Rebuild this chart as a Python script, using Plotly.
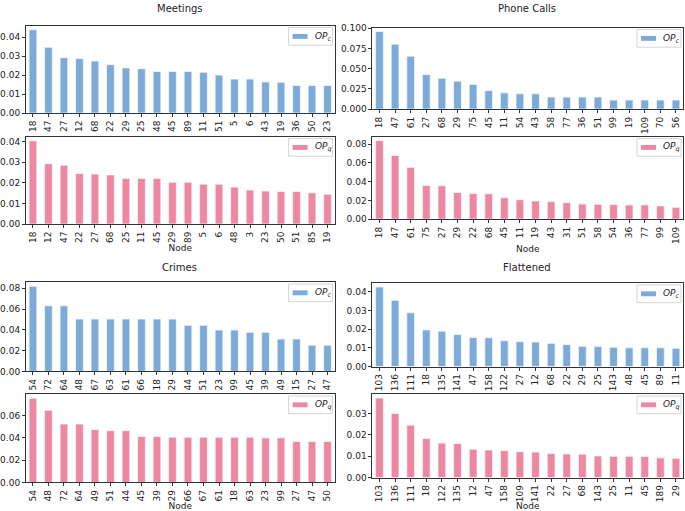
import plotly.graph_objects as go

# ---------------- data ----------------
meet_c_nodes = ["18", "47", "27", "12", "68", "22", "29", "25", "48", "45", "89", "11", "51", "5", "6", "43", "19", "36", "50", "23"]
meet_c_vals = [0.0439, 0.0347, 0.0292, 0.0287, 0.0274, 0.0255, 0.0238, 0.0234, 0.0219, 0.0219, 0.0219, 0.0215, 0.0200, 0.0179, 0.0179, 0.0164, 0.0162, 0.0145, 0.0145, 0.0145]
meet_q_nodes = ["18", "12", "47", "22", "27", "68", "25", "11", "45", "29", "89", "5", "6", "48", "3", "23", "50", "51", "85", "19"]
meet_q_vals = [0.0403, 0.0292, 0.0285, 0.0245, 0.0242, 0.0238, 0.0221, 0.0221, 0.0220, 0.0202, 0.0202, 0.0193, 0.0193, 0.0179, 0.0165, 0.0160, 0.0158, 0.0157, 0.0151, 0.0144]

phone_c_nodes = ["18", "47", "61", "27", "68", "29", "75", "45", "11", "54", "43", "58", "77", "36", "51", "99", "19", "109", "70", "56"]
phone_c_vals = [0.0960, 0.0803, 0.0655, 0.0426, 0.0382, 0.0345, 0.0305, 0.0229, 0.0201, 0.0189, 0.0189, 0.0149, 0.0149, 0.0149, 0.0149, 0.0112, 0.0112, 0.0112, 0.0112, 0.0112]
phone_q_nodes = ["18", "47", "61", "75", "27", "29", "22", "68", "45", "11", "19", "43", "31", "51", "58", "54", "36", "77", "99", "109"]
phone_q_vals = [0.0839, 0.0680, 0.0553, 0.0359, 0.0356, 0.0285, 0.0275, 0.0271, 0.0229, 0.0208, 0.0194, 0.0187, 0.0176, 0.0162, 0.0159, 0.0155, 0.0152, 0.0152, 0.0141, 0.0127]

crime_c_nodes = ["54", "72", "64", "48", "67", "63", "61", "66", "18", "29", "44", "51", "23", "99", "45", "39", "49", "15", "27", "47"]
crime_c_vals = [0.0819, 0.0631, 0.0631, 0.0504, 0.0504, 0.0504, 0.0504, 0.0504, 0.0504, 0.0504, 0.0443, 0.0443, 0.0398, 0.0398, 0.0376, 0.0376, 0.0312, 0.0312, 0.0252, 0.0252]
crime_q_nodes = ["54", "48", "72", "64", "49", "51", "44", "45", "39", "29", "66", "67", "61", "18", "63", "23", "99", "27", "47", "50"]
crime_q_vals = [0.0756, 0.0647, 0.0524, 0.0524, 0.0476, 0.0465, 0.0465, 0.0412, 0.0412, 0.0406, 0.0406, 0.0406, 0.0406, 0.0406, 0.0406, 0.0400, 0.0400, 0.0368, 0.0368, 0.0368]

flat_c_nodes = ["103", "136", "111", "18", "135", "141", "47", "158", "122", "27", "12", "68", "22", "29", "25", "143", "48", "45", "89", "11"]
flat_c_vals = [0.0426, 0.0355, 0.0288, 0.0196, 0.0189, 0.0171, 0.0155, 0.0154, 0.0138, 0.0133, 0.0131, 0.0124, 0.0117, 0.0108, 0.0107, 0.0103, 0.0100, 0.0100, 0.0100, 0.0098]
flat_q_nodes = ["103", "136", "111", "18", "122", "135", "12", "47", "158", "109", "141", "22", "27", "68", "143", "25", "11", "45", "189", "29"]
flat_q_vals = [0.0372, 0.0300, 0.0245, 0.0182, 0.0161, 0.0159, 0.0132, 0.0129, 0.0126, 0.0121, 0.0119, 0.0112, 0.0110, 0.0109, 0.0101, 0.0099, 0.0099, 0.0098, 0.0092, 0.0090]

titles = ["Meetings", "Phone Calls", "Crimes", "Flattened"]

# ---------------- style ----------------
W, H = 685, 511
BLUE = "#7eaad9"
PINK = "#ee87a2"
FONT = "DejaVu Sans"

def px_x(p):
    return p / W

def px_y(p):
    return 1 - p / H

# panel frames in pixels (x0, x1, ytop, ybottom)
panels = [
    (meet_c_nodes, meet_c_vals, BLUE, "c", (25, 334, 22, 111), [0, 0.01, 0.02, 0.03, 0.04], ".2f", False),
    (meet_q_nodes, meet_q_vals, PINK, "q", (25, 334, 135, 224), [0, 0.01, 0.02, 0.03, 0.04], ".2f", True),
    (phone_c_nodes, phone_c_vals, BLUE, "c", (372, 683, 24, 107), [0, 0.025, 0.05, 0.075, 0.1], ".3f", False),
    (phone_q_nodes, phone_q_vals, PINK, "q", (372, 683, 135, 219), [0, 0.02, 0.04, 0.06, 0.08], ".2f", True),
    (crime_c_nodes, crime_c_vals, BLUE, "c", (25, 334, 283, 374), [0, 0.02, 0.04, 0.06, 0.08], ".2f", False),
    (crime_q_nodes, crime_q_vals, PINK, "q", (25, 334, 397, 487), [0, 0.02, 0.04, 0.06], ".2f", True),
    (flat_c_nodes, flat_c_vals, BLUE, "c", (372, 683, 284, 369), [0, 0.01, 0.02, 0.03, 0.04], ".2f", False),
    (flat_q_nodes, flat_q_vals, PINK, "q", (372, 683, 397, 482), [0, 0.01, 0.02, 0.03], ".2f", True),
]

fig = go.Figure()
layout = dict(
    width=W, height=H,
    margin=dict(l=0, r=0, t=0, b=0),
    paper_bgcolor="white", plot_bgcolor="white",
    font=dict(family=FONT, size=9, color="#222"),
    showlegend=False,
    annotations=[],
    shapes=[],
)

for i, (nodes, vals, color, sub, frame, ticks, fmt, showx) in enumerate(panels):
    k = i + 1
    xa = "x" if k == 1 else f"x{k}"
    ya = "y" if k == 1 else f"y{k}"
    x0, x1, yt, yb = frame
    fig.add_trace(go.Bar(
        x=nodes, y=vals, xaxis=xa, yaxis=ya,
        marker=dict(color=color, line=dict(color="#f4f7fb", width=0.8)),
        name=f"OP{sub}", width=0.5, hoverinfo="x+y",
    ))
    n = len(nodes)
    xdict = dict(
        domain=[px_x(x0), px_x(x1)], anchor=ya, type="category",
        range=[-0.45, n - 0.55], tickangle=-90,
        showline=True, linecolor="#333", linewidth=1, mirror=True,
        ticks="outside", ticklen=3, tickcolor="#333", showgrid=False,
        tickfont=dict(family=FONT, size=9, color="#222"),
    )
    if showx:
        xdict["title"] = dict(text="Node", font=dict(family=FONT, size=9, color="#222"), standoff=2)
    layout["xaxis" if k == 1 else f"xaxis{k}"] = xdict
    layout["yaxis" if k == 1 else f"yaxis{k}"] = dict(
        domain=[px_y(yb), px_y(yt)], anchor=xa,
        range=[0, max(vals) * 1.05], tickvals=ticks, tickformat=fmt,
        showline=True, linecolor="#333", linewidth=1, mirror=True,
        ticks="outside", ticklen=3, tickcolor="#333", showgrid=False, zeroline=False,
        tickfont=dict(family=FONT, size=9, color="#222"),
    )
    # legend box (matplotlib style) drawn in paper pixels
    bx0, bx1 = x1 - 46, x1 - 2
    by0, by1 = yt + 2, yt + 20
    layout["shapes"].append(dict(
        type="rect", xref="paper", yref="paper",
        x0=px_x(bx0), x1=px_x(bx1), y0=px_y(by1), y1=px_y(by0),
        line=dict(color="#d6d6d6", width=1), fillcolor="rgba(255,255,255,0.85)",
    ))
    ym = (by0 + by1) / 2
    layout["shapes"].append(dict(
        type="rect", xref="paper", yref="paper",
        x0=px_x(bx0 + 4), x1=px_x(bx0 + 19), y0=px_y(ym + 2.5), y1=px_y(ym - 2.5),
        line=dict(width=0), fillcolor=color,
    ))
    layout["annotations"].append(dict(
        text=f"<i>OP<sub>{sub}</sub></i>", x=px_x(bx0 + 24), y=px_y(ym),
        xref="paper", yref="paper", showarrow=False,
        xanchor="left", yanchor="middle",
        font=dict(family=FONT, size=9, color="#222"),
    ))

# subplot titles
title_pos = [(179, 5), (527, 5), (179, 268), (527, 268)]
for t, (tx, ty) in zip(titles, title_pos):
    layout["annotations"].append(dict(
        text=t, x=px_x(tx), y=px_y(ty), xref="paper", yref="paper",
        showarrow=False, xanchor="center", yanchor="middle",
        font=dict(family=FONT, size=10, color="#222"),
    ))

fig.update_layout(**layout)
fig.write_html("out.html", config={"displayModeBar": False},
               post_script="document.body.style.margin='0px';")
